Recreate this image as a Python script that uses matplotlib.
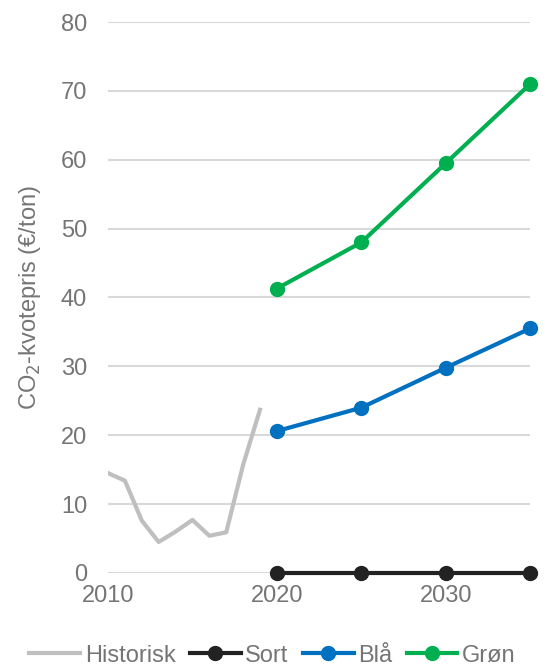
import matplotlib
matplotlib.use("Agg")
import matplotlib.pyplot as plt

plt.rcParams["font.family"] = ["Liberation Sans", "DejaVu Sans"]

# Historiske kvotepriser
hist_år = [2010, 2011, 2012, 2013, 2014, 2015, 2016, 2017, 2018, 2019]
hist_pris = [14.5, 13.4, 7.6, 4.5, 6.0, 7.7, 5.4, 5.9, 15.7, 23.7]

# Scenarier
scenarie_år = [2020, 2025, 2030, 2035]
sort = [0, 0, 0, 0]
blaa = [20.6, 24.0, 29.8, 35.5]
groen = [41.3, 48.0, 59.5, 71.0]

tekst_farve = "#757575"
grid_farve = "#D9D9D9"

fig = plt.figure(figsize=(5.54, 6.67), dpi=100)
ax = fig.add_axes([0.195, 0.141, 0.762, 0.826])

ax.plot(hist_år, hist_pris, color="#BFBFBF", lw=3, label="Historisk")
for navn, værdier, farve in [("Sort", sort, "#222222"), ("Blå", blaa, "#0070C0"),
                             ("Grøn", groen, "#00B050")]:
    ax.plot(scenarie_år, værdier, color=farve, lw=3, marker="o", ms=10,
            label=navn, clip_on=False, zorder=3)

ax.set_xlim(2010, 2035)
ax.set_ylim(0, 80)
ax.set_yticks(range(0, 81, 10))
ax.set_xticks([2010, 2020, 2030])
ax.yaxis.grid(True, color=grid_farve, lw=1.5)
ax.set_axisbelow(True)
for s in ax.spines.values():
    s.set_visible(False)
ax.tick_params(length=0, labelsize=17, colors=tekst_farve, pad=15)
ax.tick_params(axis="x", pad=9)

ax.set_ylabel("CO$_2$-kvotepris (€/ton)", fontsize=17, color=tekst_farve)
ax.yaxis.set_label_coords(-0.155, 0.5)

fig.legend(loc="center left", bbox_to_anchor=(0.036, 0.017), ncol=4, frameon=False,
           fontsize=17, labelcolor=tekst_farve, handlelength=2.15, handletextpad=0.2,
           columnspacing=0.6, borderaxespad=0)

fig.savefig("out.png", dpi=100)
